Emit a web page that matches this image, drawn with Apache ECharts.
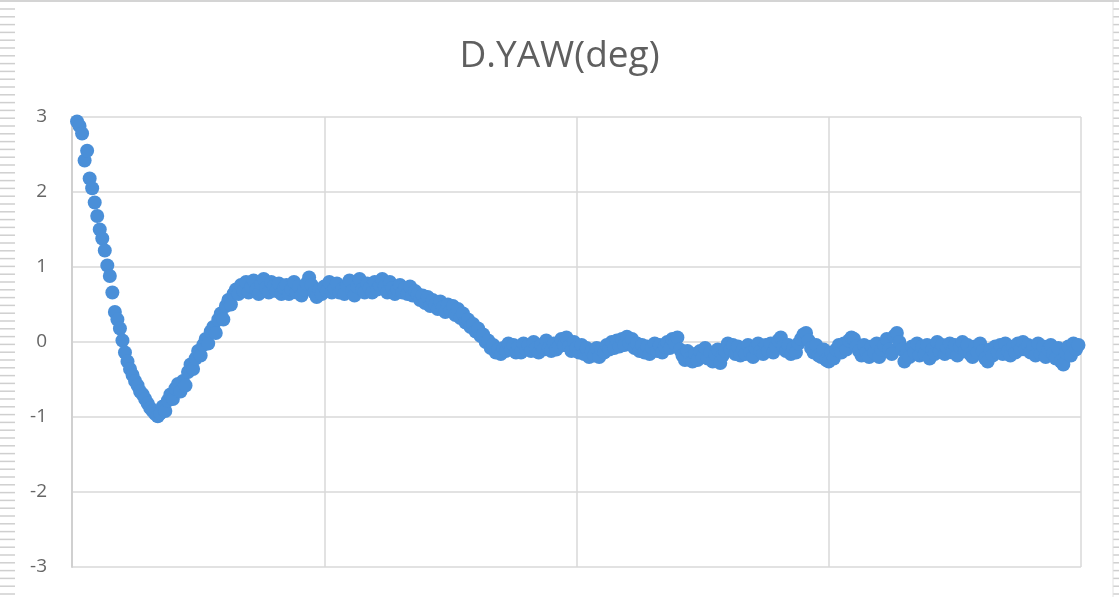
<!DOCTYPE html>
<html>
<head>
<meta charset="utf-8">
<title>D.YAW(deg)</title>
<script src="https://cdn.jsdelivr.net/npm/echarts@6/dist/echarts.min.js"></script>
<style>
  html, body { margin: 0; padding: 0; background: #ffffff; }
  #chart { width: 1119px; height: 597px; }
</style>
</head>
<body>
<div id="chart"></div>
<script>
// Chart title
const chartTitle = 'D.YAW(deg)';

// Sample number of the first reading; each following reading is the next sample
const firstSample = 2;

// Initial swing: fast drop from +3 deg to the -1 deg undershoot
const yawDrop = [
  2.94, 2.88, 2.78, 2.42, 2.55, 2.18, 2.05, 1.86, 1.68, 1.50,
  1.38, 1.22, 1.02, 0.88, 0.66, 0.40, 0.30, 0.18, 0.02, -0.14,
  -0.26, -0.36, -0.44, -0.52, -0.58, -0.66, -0.70, -0.76, -0.82, -0.88,
  -0.92, -0.96, -0.99
];

// Recovery from the undershoot
const yawRise = [
  -0.95, -0.86, -0.92, -0.78, -0.70, -0.76, -0.62, -0.56, -0.66, -0.52,
  -0.58, -0.40, -0.30, -0.36, -0.22, -0.12, -0.18, -0.04, 0.04, -0.02,
  0.14, 0.20, 0.12, 0.30, 0.38, 0.30, 0.48, 0.56, 0.50, 0.64
];

// Hold around +0.7 deg
const yawPlateau = [
  0.70, 0.64, 0.76, 0.68, 0.80, 0.66, 0.74, 0.82, 0.70, 0.64,
  0.78, 0.84, 0.72, 0.66, 0.80, 0.74, 0.68, 0.78, 0.64, 0.72,
  0.76, 0.64, 0.70, 0.80, 0.66, 0.74, 0.62, 0.70, 0.78, 0.86,
  0.76, 0.66, 0.60, 0.70, 0.64, 0.74, 0.68, 0.80, 0.66, 0.72,
  0.78, 0.66, 0.70, 0.64, 0.76, 0.82, 0.68, 0.62, 0.74, 0.84,
  0.70, 0.66, 0.78, 0.72, 0.66, 0.80, 0.70, 0.76, 0.84, 0.74,
  0.66, 0.80, 0.72, 0.64, 0.70, 0.76, 0.66, 0.72, 0.64, 0.74,
  0.62, 0.68
];

// Second correction back towards zero
const yawSettle = [
  0.64, 0.56, 0.62, 0.52, 0.60, 0.48, 0.56, 0.50, 0.44, 0.54,
  0.46, 0.40, 0.50, 0.42, 0.48, 0.36, 0.44, 0.32, 0.38, 0.26,
  0.30, 0.20, 0.24, 0.14, 0.18, 0.08, 0.10, 0.00, 0.02, -0.08,
  -0.04, -0.14, -0.10, -0.16, -0.08, -0.12, -0.02, -0.10, -0.04, -0.14
];

// Steady state, slightly below zero
const yawSteady = [
  -0.06, -0.14, -0.02, -0.10, -0.04, -0.12, 0.00, -0.08, -0.14, -0.04,
  -0.10, 0.02, -0.08, -0.12, -0.02, -0.10, -0.06, 0.04, -0.04, 0.06,
  -0.06, -0.12, 0.00, -0.08, -0.14, -0.04, -0.16, -0.08, -0.20, -0.12,
  -0.18, -0.08, -0.20, -0.10, -0.14, -0.04, -0.10, 0.00, -0.08, 0.02,
  -0.06, 0.04, -0.04, 0.07, -0.02, 0.04, -0.08, -0.02, -0.12, -0.04,
  -0.14, -0.06, -0.16, -0.08, -0.02, -0.12, -0.04, -0.14, -0.06, 0.00,
  -0.08, 0.04, -0.02, 0.06, -0.10, -0.18, -0.24, -0.12, -0.22, -0.26,
  -0.16, -0.24, -0.12, -0.20, -0.08, -0.22, -0.14, -0.26, -0.16, -0.10,
  -0.28, -0.18, -0.12, -0.02, -0.10, -0.04, -0.16, -0.06, -0.18, -0.10,
  -0.16, -0.04, -0.14, -0.20, -0.08, -0.02, -0.12, -0.16, -0.04, -0.12,
  -0.02, -0.14, -0.06, 0.02, 0.06, -0.06, -0.12, -0.04, -0.16, -0.08,
  -0.14, -0.02, 0.04, 0.10, 0.12, 0.02, -0.08, -0.14, -0.04, -0.18,
  -0.20, -0.10, -0.24, -0.26, -0.14, -0.22, -0.10, -0.04, -0.14, -0.02,
  -0.10, 0.02, 0.06, 0.04, -0.06, -0.12, -0.18, -0.04, -0.14, -0.20,
  -0.06, -0.14, -0.02, -0.20, -0.10, -0.04, 0.04, -0.10, -0.16, 0.08,
  0.12, 0.00, -0.10, -0.26, -0.12, -0.20, -0.06, -0.14, -0.02, -0.18,
  -0.06, -0.16, -0.04, -0.22, -0.10, -0.16, 0.00, -0.12, -0.04, -0.16,
  -0.08, -0.02, -0.14, -0.04, -0.18, -0.06, 0.00, -0.12, -0.04, -0.16,
  -0.20, -0.06, -0.14, -0.02, -0.12, -0.22, -0.26, -0.10, -0.18, -0.06,
  -0.14, -0.04, -0.16, -0.02, -0.12, -0.18, -0.06, -0.14, -0.02, -0.10,
  0.00, -0.10, -0.04, -0.14, -0.06, -0.18, -0.02, -0.16, -0.06, -0.20,
  -0.10, -0.04, -0.16, -0.22, -0.08, -0.26, -0.30, -0.14, -0.06, -0.18,
  -0.02, -0.10, -0.04
];

// Y tick labels
const yTickLabels = ['-3', '-2', '-1', '0', '1', '2', '3'];

// Axis extents
const xMin = 0, xMax = 400, xStep = 100;
const yMin = -3, yMax = 3, yStep = 1;

const yawDeg = [].concat(yawDrop, yawRise, yawPlateau, yawSettle, yawSteady);
const points = yawDeg.map((v, i) => [firstSample + i, v]);

// Worksheet edge decorations (row markers on both sides, border on top)
const edgeMarks = [];
for (let y = 9; y < 597; y += 7.8) {
  edgeMarks.push({ type: 'line', shape: { x1: 0, y1: y, x2: 15, y2: y },
    style: { stroke: '#cfcfcf', lineWidth: 1.5 }, silent: true });
  edgeMarks.push({ type: 'line', shape: { x1: 1113, y1: y, x2: 1119, y2: y },
    style: { stroke: '#cfcfcf', lineWidth: 1.5 }, silent: true });
}
edgeMarks.push({ type: 'line', shape: { x1: 1113, y1: 0, x2: 1113, y2: 597 },
  style: { stroke: '#e2e2e2', lineWidth: 1 }, silent: true });
edgeMarks.push({ type: 'line', shape: { x1: 0, y1: 1, x2: 1119, y2: 1 },
  style: { stroke: '#d4d4d4', lineWidth: 2 }, silent: true });

const chart = echarts.init(document.getElementById('chart'), null, { renderer: 'canvas' });
chart.setOption({
  backgroundColor: '#ffffff',
  animation: false,
  title: {
    text: chartTitle,
    left: 'center',
    top: 33,
    textStyle: {
      fontFamily: 'Open Sans',
      fontSize: 37,
      fontWeight: 'normal',
      color: '#5f5f5f'
    }
  },
  grid: { left: 72, right: 38, top: 117, bottom: 30, containLabel: false },
  xAxis: {
    type: 'value',
    min: xMin, max: xMax, interval: xStep,
    axisLine: { show: false },
    axisTick: { show: false },
    axisLabel: { show: false },
    splitLine: { show: true, lineStyle: { color: '#d9d9d9', width: 1.5 } }
  },
  yAxis: {
    type: 'value',
    min: yMin, max: yMax, interval: yStep,
    axisLine: { show: true, onZero: false, lineStyle: { color: '#d0d0d0', width: 2 } },
    axisTick: { show: false },
    axisLabel: {
      margin: 25,
      fontFamily: 'Open Sans',
      fontSize: 19,
      color: '#666666',
      formatter: (v) => yTickLabels[Math.round(v - yMin)]
    },
    splitLine: { show: true, lineStyle: { color: '#d9d9d9', width: 1.5 } }
  },
  series: [{
    type: 'scatter',
    data: points,
    symbol: 'circle',
    symbolSize: 14,
    itemStyle: { color: '#4a8fd8', opacity: 1 },
    emphasis: { disabled: true }
  }],
  graphic: edgeMarks
});
</script>
</body>
</html>
